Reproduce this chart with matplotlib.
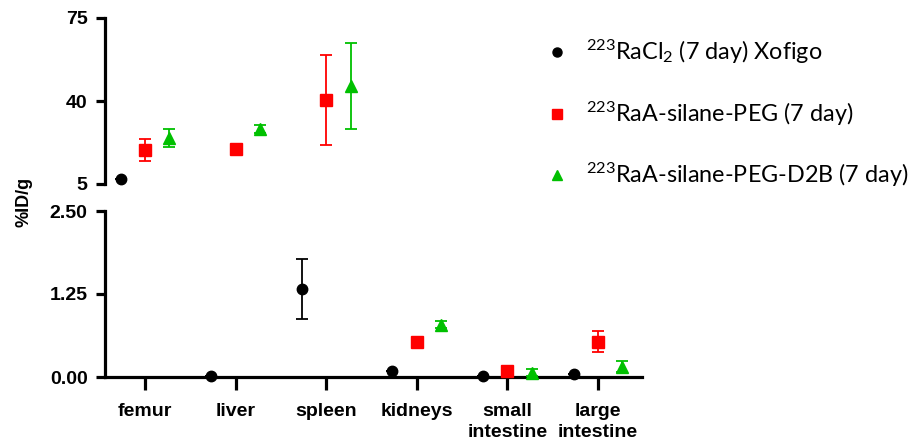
import matplotlib
matplotlib.use("Agg")
import matplotlib.pyplot as plt
from matplotlib.lines import Line2D
import numpy as np

categories = ['femur', 'liver', 'spleen', 'kidneys', 'small\nintestine', 'large\nintestine']
series_labels = ['$^{223}$RaCl$_2$ (7 day) Xofigo',
                 '$^{223}$RaA-silane-PEG (7 day)',
                 '$^{223}$RaA-silane-PEG-D2B (7 day)']
xofigo = [7.0, 0.01, 1.33, 0.09, 0.02, 0.045]
xofigo_err = [0.0, 0.0, 0.45, 0.0, 0.0, 0.0]
peg = [19.3, 19.8, 40.6, 0.53, 0.09, 0.53]
peg_err = [4.5, 0.5, 19.0, 0.03, 0.02, 0.16]
d2b = [24.5, 28.1, 46.3, 0.79, 0.065, 0.155]
d2b_err = [3.8, 1.8, 18.2, 0.05, 0.05, 0.08]
top_ticks = [5, 40, 75]
bottom_ticks = [0.0, 1.25, 2.5]

colors = ['#000000', '#FF0000', '#00C000']
markers = ['o', 's', '^']
msizes = [7.5, 8.0, 8.5]
offsets = [-0.27, 0.0, 0.27]
data = [(xofigo, xofigo_err), (peg, peg_err), (d2b, d2b_err)]

plt.rcParams['font.family'] = ['Liberation Sans', 'DejaVu Sans']
plt.rcParams['mathtext.fontset'] = 'custom'
plt.rcParams['mathtext.rm'] = 'Lato'
plt.rcParams['mathtext.it'] = 'Lato:italic'
plt.rcParams['mathtext.bf'] = 'Lato:bold'

W, H = 916, 443
fig = plt.figure(figsize=(W / 100, H / 100), dpi=100)
left, right = 105 / W, 642 / W
ax_top = fig.add_axes([left, 1 - 184 / H, right - left, (184 - 18) / H])
ax_bot = fig.add_axes([left, 1 - 377 / H, right - left, (377 - 211) / H])

x = np.arange(len(categories))
xlim = (-0.4415, 5.486)
lw = 2.3

for ax in (ax_top, ax_bot):
    ax.set_xlim(*xlim)
    for s in ('top', 'right'):
        ax.spines[s].set_visible(False)
    ax.spines['left'].set_linewidth(lw)
    ax.spines['bottom'].set_linewidth(lw)
    ax.tick_params(axis='y', length=6.5, width=lw, labelsize=14, pad=6)

ax_top.set_ylim(5, 75)
ax_top.set_yticks(top_ticks)
ax_top.set_yticklabels([str(t) for t in top_ticks], fontweight='bold', fontsize=14)
ax_top.spines['bottom'].set_visible(False)
ax_top.set_xticks([])

ax_bot.set_ylim(0, 2.5)
ax_bot.set_yticks(bottom_ticks)
ax_bot.set_yticklabels([f'{t:.2f}' for t in bottom_ticks], fontweight='bold', fontsize=14)
ax_bot.set_xticks(x)
ax_bot.set_xticklabels(categories, fontweight='bold', fontsize=14, linespacing=1.3)
ax_bot.tick_params(axis='x', length=9.5, width=lw, pad=9)

for (vals, errs), c, m, ms, off in zip(data, colors, markers, msizes, offsets):
    vals = np.asarray(vals)
    errs = np.asarray(errs)
    for ax, mask in ((ax_top, vals > 2.5), (ax_bot, vals <= 2.5)):
        if not mask.any():
            continue
        cont = ax.errorbar(x[mask] + off, vals[mask], yerr=errs[mask], fmt=m, color=c,
                           ms=ms, mec=c, mfc=c, ecolor=c, elinewidth=1.3,
                           capsize=4.5, capthick=1.3, zorder=5)
        for art in cont.get_children():
            art.set_clip_on(False)

fig.text(24 / W, 1 - 202 / H, '%ID/g', rotation=90, ha='center', va='center',
         fontsize=13, fontweight='bold')

handles = [Line2D([], [], ls='none', marker=m, color=c, ms=6.5) for m, c in zip(markers, colors)]
fig.legend(handles, series_labels, loc='upper left', bbox_to_anchor=(548 / W, 1 - 38 / H),
           frameon=False, prop={'family': 'Lato', 'size': 16.8},
           handlelength=0.8, handletextpad=0.85, labelspacing=1.42, borderpad=0,
           borderaxespad=0)

fig.savefig('out.png', dpi=100)
